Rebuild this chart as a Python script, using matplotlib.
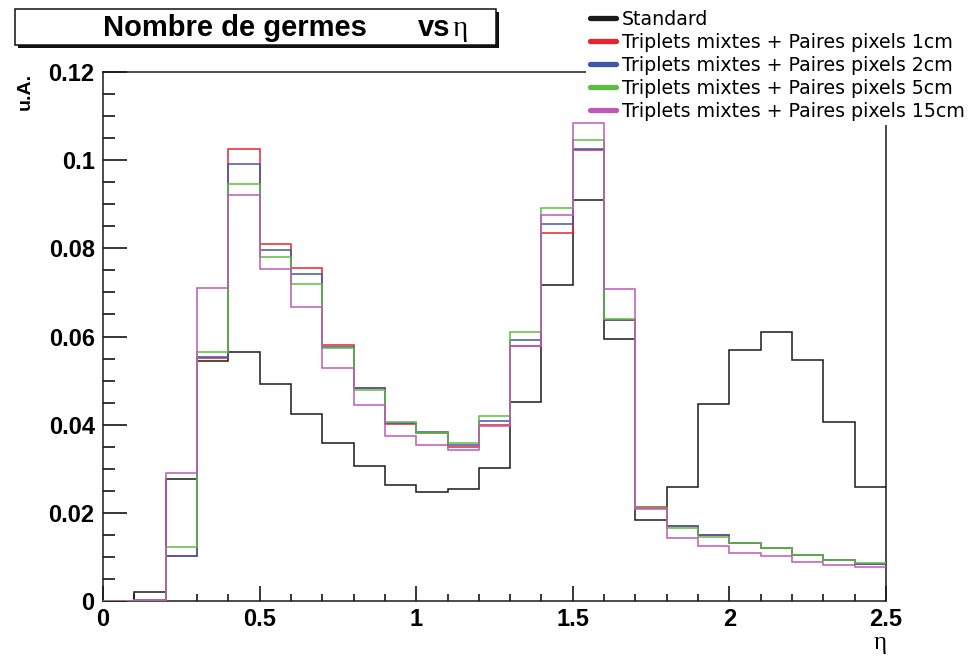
import matplotlib
matplotlib.use('Agg')
import matplotlib.pyplot as plt
import numpy as np
from matplotlib.patches import Rectangle
from matplotlib.lines import Line2D

# eta bin edges (25 bins of 0.1)
bin_edges = np.round(np.linspace(0.0, 2.5, 26), 2)

standard = [0.0, 0.0020, 0.0277, 0.0544, 0.0565, 0.0492, 0.0424, 0.0358, 0.0306, 0.0263,
            0.0247, 0.0254, 0.0302, 0.0451, 0.0717, 0.0909, 0.0594, 0.0184, 0.0259, 0.0447,
            0.0569, 0.0610, 0.0546, 0.0406, 0.0259]
pix_1cm = [0.0, 0.0002, 0.0103, 0.0551, 0.1025, 0.0810, 0.0755, 0.0580, 0.0483, 0.0402,
           0.0382, 0.0350, 0.0399, 0.0578, 0.0835, 0.1023, 0.0637, 0.0214, 0.0170, 0.0150,
           0.0132, 0.0120, 0.0105, 0.0094, 0.0085]
pix_2cm = [0.0, 0.0002, 0.0103, 0.0553, 0.0991, 0.0796, 0.0741, 0.0576, 0.0483, 0.0404,
           0.0383, 0.0354, 0.0409, 0.0593, 0.0855, 0.1025, 0.0637, 0.0212, 0.0170, 0.0150,
           0.0132, 0.0120, 0.0105, 0.0093, 0.0085]
pix_5cm = [0.0, 0.0003, 0.0122, 0.0565, 0.0946, 0.0780, 0.0719, 0.0573, 0.0478, 0.0406,
           0.0381, 0.0358, 0.0419, 0.0610, 0.0891, 0.1045, 0.0639, 0.0210, 0.0165, 0.0146,
           0.0132, 0.0120, 0.0104, 0.0093, 0.0086]
pix_15cm = [0.0, 0.0002, 0.0290, 0.0710, 0.0921, 0.0753, 0.0667, 0.0529, 0.0444, 0.0374,
            0.0354, 0.0342, 0.0397, 0.0578, 0.0876, 0.1084, 0.0707, 0.0208, 0.0143, 0.0125,
            0.0110, 0.0103, 0.0089, 0.0082, 0.0078]

labels = ['Standard',
          'Triplets mixtes + Paires pixels 1cm',
          'Triplets mixtes + Paires pixels 2cm',
          'Triplets mixtes + Paires pixels 5cm',
          'Triplets mixtes + Paires pixels 15cm']
colors = ['#1a1a1a', '#e8232b', '#3d56a9', '#5cbd3e', '#c059b5']

xticks = [0, 0.5, 1, 1.5, 2, 2.5]
xticklabels = ['0', '0.5', '1', '1.5', '2', '2.5']
yticks = [0, 0.02, 0.04, 0.06, 0.08, 0.1, 0.12]
yticklabels = ['0', '0.02', '0.04', '0.06', '0.08', '0.1', '0.12']

W, H = 975, 664
fig = plt.figure(figsize=(W / 100, H / 100), dpi=100)


def fx(x):
    return x / W


def fy(y):
    return 1 - y / H


ax = fig.add_axes([fx(103), fy(601), fx(886) - fx(103), fy(72) - fy(601)])

series = [standard, pix_1cm, pix_2cm, pix_5cm, pix_15cm]
for vals, c in zip(series, colors):
    ax.stairs(vals, bin_edges, color=c, linewidth=1.1, baseline=None, zorder=6)

ax.set_xlim(0, 2.5)
ax.set_ylim(0, 0.12)
ax.set_xticks(xticks)
ax.set_xticklabels(xticklabels)
ax.set_yticks(yticks)
ax.set_yticklabels(yticklabels)
ax.set_xticks(np.round(np.arange(0, 2.51, 0.1), 2), minor=True)
ax.set_yticks(np.round(np.arange(0, 0.1201, 0.005), 3), minor=True)

for s in ax.spines.values():
    s.set_linewidth(1.1)
    s.set_color('#1a1a1a')

ax.xaxis.set_tick_params(which='major', direction='in', length=11, width=1.1, pad=5)
ax.xaxis.set_tick_params(which='minor', direction='in', length=5.4, width=1.1)
ax.yaxis.set_tick_params(which='major', direction='in', length=17, width=1.1, pad=6)
ax.yaxis.set_tick_params(which='minor', direction='in', length=8.6, width=1.1)
for lab in ax.get_xticklabels() + ax.get_yticklabels():
    lab.set_fontfamily('Liberation Sans')
    lab.set_fontweight('bold')
    lab.set_fontsize(17)

# axis titles
fig.text(fx(25), fy(73), 'u.A.', rotation=90, ha='center', va='top',
         fontsize=14, fontweight='bold', family='Liberation Sans')
fig.text(fx(880), fy(632), 'η', ha='center', va='top',
         fontsize=18, family='Liberation Serif')

# title box with shadow
fig.add_artist(Rectangle((fx(18), fy(48)), fx(481), 36 / H,
                         transform=fig.transFigure, facecolor='#111111',
                         edgecolor='none', zorder=5))
fig.add_artist(Rectangle((fx(15), fy(45)), fx(481), 36 / H,
                         transform=fig.transFigure, facecolor='white',
                         edgecolor='#111111', linewidth=1.1, zorder=6))
fig.text(fx(235), fy(28), 'Nombre de germes', ha='center', va='center',
         fontsize=21, fontweight='bold', family='Liberation Sans', zorder=7)
fig.text(fx(418), fy(28), 'vs', ha='left', va='center',
         fontsize=21, fontweight='bold', family='Liberation Sans', zorder=7)
fig.text(fx(453), fy(29), 'η', ha='left', va='center',
         fontsize=21, family='Liberation Serif', zorder=7)

# legend (kept below the histogram lines, above the frame)
handles = [Line2D([], [], color=c, linewidth=3.8, solid_capstyle='round') for c in colors]
leg = ax.legend(handles, labels, loc='upper left', bbox_to_anchor=(fx(586), fy(6)),
                bbox_transform=fig.transFigure,
                fontsize=13.7, frameon=True, fancybox=False, framealpha=1,
                handlelength=1.4, handletextpad=0.3, labelspacing=0.21,
                borderpad=0.2, borderaxespad=0)
leg.set_zorder(5)
leg.get_frame().set_edgecolor('white')
leg.get_frame().set_facecolor('white')
leg.get_frame().set_linewidth(0)
for t in leg.get_texts():
    t.set_family('DejaVu Sans')

fig.savefig('out.png', dpi=100)
